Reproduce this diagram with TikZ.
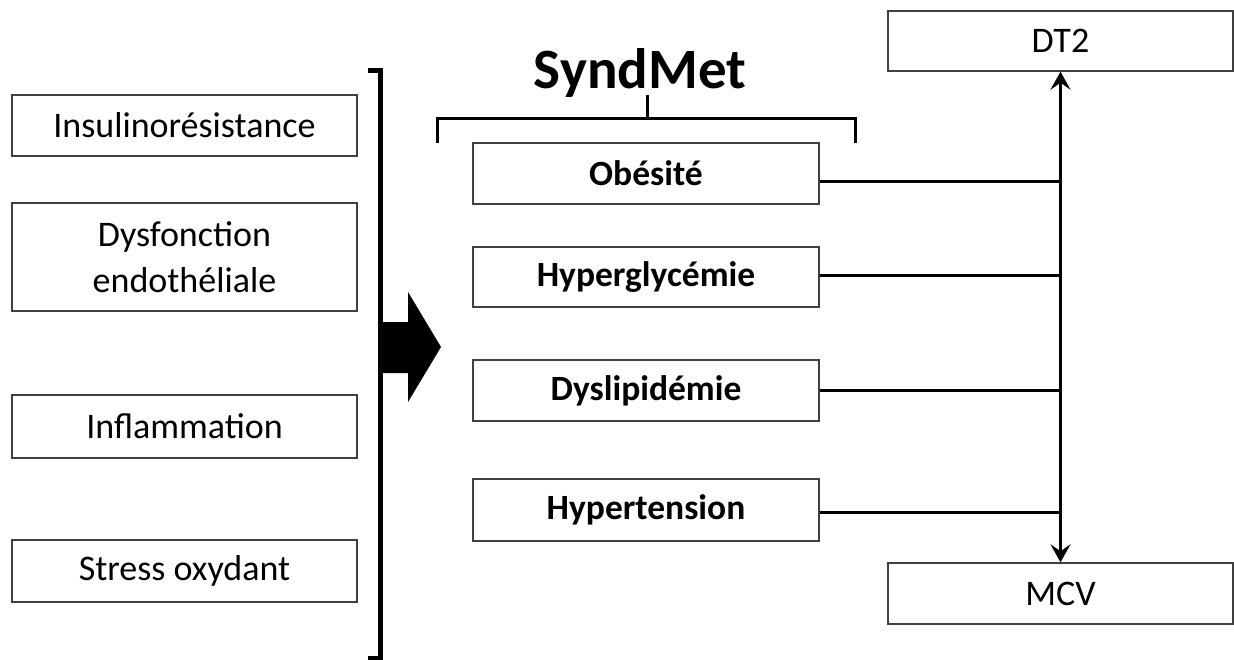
\documentclass[tikz,border=0pt]{standalone}
\usepackage{fontspec}
\setmainfont{Carlito}
\usetikzlibrary{arrows.meta}
\begin{document}
\begin{tikzpicture}[x=1pt,y=-1pt,
  box/.style={draw=black!75,line width=1.4pt,inner sep=0pt,align=center,
    font=\fontsize{36}{46}\selectfont},
  leftbox/.style={box,minimum width=345pt},
  midbox/.style={box,minimum width=346pt,font=\bfseries\fontsize{35.5}{40}\selectfont},
  rightbox/.style={box,minimum width=345pt,font=\fontsize{36}{44}\selectfont},
  conn/.style={line width=3pt},
  brack/.style={line width=3pt},
  mytip/.tip={Stealth[length=18pt,width=20pt,inset=7pt]}
]
\useasboundingbox (0,0) rectangle (1234,659);
% left column
\node[leftbox,minimum height=61pt] (ir) at (184.5,125.5) {Insulinorésistance};
\node[leftbox,minimum height=108pt] (de) at (184.5,257) {Dysfonction\\endothéliale};
\node[leftbox,minimum height=63pt] (inf) at (184.5,426.5) {Inflammation};
\node[leftbox,minimum height=62pt] (so) at (184.5,571) {Stress oxydant};
% left bracket
\draw[line width=5pt] (368,70) -- (380,70) -- (380,658) -- (368,658);
% big arrow
\fill (380,322) -- (408,322) -- (408,292) -- (441,347) -- (408,402) -- (408,373) -- (380,373) -- cycle;
% SyndMet
\node[anchor=base,inner sep=0pt,font=\bfseries\fontsize{57}{66}\selectfont] (sm) at (640,88) {SyndMet};
\draw[brack] (437,143) -- (437,118) -- (855,118) -- (855,143);
\draw[brack] (647,95) -- (647,118);
% middle column
\node[midbox,minimum height=61pt] (ob) at (646,173.5) {Obésité};
\node[midbox,minimum height=60pt] (hg) at (646,277) {Hyperglycémie};
\node[midbox,minimum height=61pt] (dl) at (646,390.5) {Dyslipidémie};
\node[midbox,minimum height=62pt] (ht) at (646,510) {Hypertension};
% right column
\node[rightbox,minimum height=60pt] (dt) at (1060.5,41) {DT2};
\node[rightbox,minimum height=61pt] (mcv) at (1060.5,593.5) {MCV};
% connectors
\draw[conn,mytip-mytip] (dt.south) -- (mcv.north);
\draw[conn] ([yshift=-8pt]ob.east) -- ([yshift=-8pt]ob.east -| dt.south);
\draw[conn] ([yshift=2pt]hg.east) -- ([yshift=2pt]hg.east -| dt.south);
\draw[conn] (dl.east) -- (dl.east -| dt.south);
\draw[conn] ([yshift=-2pt]ht.east) -- ([yshift=-2pt]ht.east -| dt.south);
\end{tikzpicture}
\end{document}
